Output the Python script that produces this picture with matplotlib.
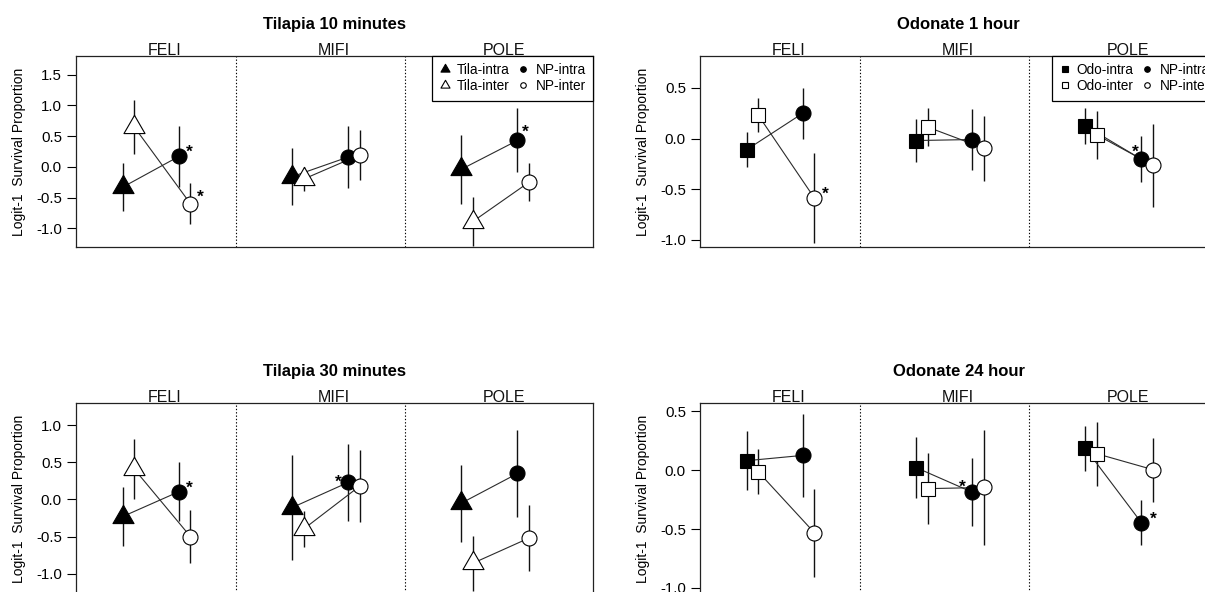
import matplotlib
matplotlib.use("Agg")
import matplotlib.pyplot as plt
from matplotlib.path import Path
from matplotlib.lines import Line2D
from matplotlib.transforms import blended_transform_factory

plt.rcParams['font.family'] = ['Liberation Sans', 'DejaVu Sans']
plt.rcParams['axes.unicode_minus'] = False

categories = ["FELI", "MIFI", "POLE"]

# Tilapia, 10 minutes
tila10_intra = [-0.33, -0.16, -0.04]
tila10_intra_se = [0.39, 0.46, 0.56]
tila10_inter = [0.65, -0.20, -0.89]
tila10_inter_se = [0.44, 0.19, 0.40]
tila10_np_intra = [0.17, 0.16, 0.43]
tila10_np_intra_se = [0.50, 0.51, 0.52]
tila10_np_inter = [-0.60, 0.195, -0.25]
tila10_np_inter_se = [0.33, 0.41, 0.31]

# Odonate, 1 hour
odo1_intra = [-0.11, -0.02, 0.125]
odo1_intra_se = [0.175, 0.21, 0.177]
odo1_inter = [0.23, 0.113, 0.036]
odo1_inter_se = [0.17, 0.19, 0.235]
odo1_np_intra = [0.25, -0.01, -0.205]
odo1_np_intra_se = [0.25, 0.30, 0.225]
odo1_np_inter = [-0.587, -0.095, -0.264]
odo1_np_inter_se = [0.44, 0.32, 0.41]

# Tilapia, 30 minutes
tila30_intra = [-0.23, -0.11, -0.05]
tila30_intra_se = [0.40, 0.71, 0.52]
tila30_inter = [0.41, -0.40, -0.86]
tila30_inter_se = [0.41, 0.24, 0.37]
tila30_np_intra = [0.105, 0.23, 0.35]
tila30_np_intra_se = [0.40, 0.52, 0.585]
tila30_np_inter = [-0.50, 0.18, -0.52]
tila30_np_inter_se = [0.36, 0.49, 0.45]

# Odonate, 24 hour
odo24_intra = [0.079, 0.021, 0.185]
odo24_intra_se = [0.25, 0.255, 0.19]
odo24_inter = [-0.015, -0.158, 0.138]
odo24_inter_se = [0.19, 0.30, 0.27]
odo24_np_intra = [0.124, -0.188, -0.447]
odo24_np_intra_se = [0.35, 0.29, 0.19]
odo24_np_inter = [-0.532, -0.148, 0.003]
odo24_np_inter_se = [0.375, 0.49, 0.27]

# y tick labels of each panel
ticks_tila10 = ["-1.0", "-0.5", "0.0", "0.5", "1.0", "1.5"]
ticks_odo1 = ["-1.0", "-0.5", "0.0", "0.5"]
ticks_tila30 = ["-1.0", "-0.5", "0.0", "0.5", "1.0"]
ticks_odo24 = ["-1.0", "-0.5", "0.0", "0.5"]

YLABEL = "Logit-1  Survival Proportion"

# triangle centred on its centroid (as in R's pch 2 / 17)
TRIANGLE = Path([(0, 1.555), (1.347, -0.778), (-1.347, -0.778), (0, 1.555)],
                [Path.MOVETO, Path.LINETO, Path.LINETO, Path.CLOSEPOLY])

W, H = 1205, 592
fig = plt.figure(figsize=(W / 100, H / 100), dpi=100)


def px_rect(left, top, width, height):
    return [left / W, 1 - (top + height) / H, width / W, height / H]


# horizontal placement of the four series inside each site block
OFFSETS = {"intra": 0.0, "inter": 0.068, "np_intra": 0.332, "np_inter": 0.40}
XLIM = (0.724, 3.780)
SEPARATORS = [1.67, 2.67]


def draw_panel(rect, title, pred, marker, ms, lms, series, ylim, ticklabels, stars,
               legend=True):
    ax = fig.add_axes(px_rect(*rect))
    ax.set_xlim(*XLIM)
    ax.set_ylim(*ylim)

    for s in SEPARATORS:
        ax.axvline(s, color="black", lw=0.8, ls=(0, (1.2, 1.8)), zorder=1)

    xs = {k: [g + 1 + off for g in range(len(categories))] for k, off in OFFSETS.items()}

    # error bars
    for k, (m, se) in series.items():
        ax.vlines(xs[k], [a - b for a, b in zip(m, se)], [a + b for a, b in zip(m, se)],
                  color="#111111", lw=1.0, zorder=2)
    # connecting lines: predator cue -> no-predator control
    for a, b in (("intra", "np_intra"), ("inter", "np_inter")):
        for g in range(len(categories)):
            ax.plot([xs[a][g], xs[b][g]], [series[a][0][g], series[b][0][g]],
                    color="#2b2b2b", lw=0.8, zorder=3)
    # significance stars
    for g, k, dx, dy in stars:
        ax.annotate("*", (xs[k][g], series[k][0][g]), xytext=(dx, dy - 6.6),
                    textcoords="offset points", ha="center", va="baseline",
                    fontsize=12.5, fontweight="bold", color="black", zorder=3.5)
    # markers
    styles = {
        "intra": dict(marker=marker, ms=ms, mfc="black"),
        "inter": dict(marker=marker, ms=ms, mfc="white"),
        "np_intra": dict(marker="o", ms=10.8, mfc="black"),
        "np_inter": dict(marker="o", ms=10.8, mfc="white"),
    }
    for z, k in enumerate(("intra", "inter", "np_intra", "np_inter")):
        ax.plot(xs[k], series[k][0], ls="none", mec="black", mew=0.8,
                zorder=4 + z, **styles[k])

    # site labels above the frame
    tr = blended_transform_factory(ax.transData, ax.transAxes)
    for g, c in enumerate(categories):
        ax.text(g + 1.25, 1.003, c, transform=tr, ha="center", va="baseline",
                fontsize=11.5, color="#111111")

    ax.set_title(title, fontsize=12, fontweight="bold", pad=19.5)

    ax.set_yticks([float(t) for t in ticklabels])
    ax.set_yticklabels(ticklabels)
    ax.set_xticks([])
    ax.tick_params(axis="y", direction="out", length=6.7, width=0.8, pad=3.4,
                   labelsize=10.8, colors="black")
    for sp in ax.spines.values():
        sp.set_linewidth(0.9)
        sp.set_color("#222222")

    ax.set_ylabel(YLABEL, fontsize=10, va="center")
    ax.yaxis.set_label_coords(-57 / rect[2], 0.5)

    if legend:
        handles = [
            Line2D([], [], ls="none", marker=marker, ms=lms, mfc="black", mec="black", mew=0.8),
            Line2D([], [], ls="none", marker=marker, ms=lms, mfc="white", mec="black", mew=0.8),
            Line2D([], [], ls="none", marker="o", ms=4.0, mfc="black", mec="black", mew=0.8),
            Line2D([], [], ls="none", marker="o", ms=4.0, mfc="white", mec="black", mew=0.8),
        ]
        labels = [pred + "-intra", pred + "-inter", "NP-intra", "NP-inter"]
        leg = ax.legend(handles, labels, ncol=2, loc="upper right", bbox_to_anchor=(1, 1),
                        borderaxespad=0, fontsize=9.8, frameon=True, fancybox=False,
                        edgecolor="black", framealpha=1, handlelength=0.8,
                        handletextpad=0.49, columnspacing=0.6, borderpad=0.55,
                        labelspacing=0.15)
        leg.get_frame().set_linewidth(0.9)
        leg.set_zorder(10)
    return ax


draw_panel((76, 55.7, 517.3, 191.6), "Tilapia 10 minutes", "Tila", TRIANGLE, 17.5, 7.5,
           {"intra": (tila10_intra, tila10_intra_se),
            "inter": (tila10_inter, tila10_inter_se),
            "np_intra": (tila10_np_intra, tila10_np_intra_se),
            "np_inter": (tila10_np_inter, tila10_np_inter_se)},
           (-1.309, 1.809), ticks_tila10,
           [(0, "np_intra", 7.2, 6.5), (0, "np_inter", 7.2, 8.0), (2, "np_intra", 5.3, 9.5)])

draw_panel((700, 55.7, 517.3, 191.6), "Odonate 1 hour", "Odo", "s", 10.4, 4.4,
           {"intra": (odo1_intra, odo1_intra_se),
            "inter": (odo1_inter, odo1_inter_se),
            "np_intra": (odo1_np_intra, odo1_np_intra_se),
            "np_inter": (odo1_np_inter, odo1_np_inter_se)},
           (-1.072, 0.816), ticks_odo1,
           [(0, "np_inter", 7.9, 6.0), (2, "np_intra", -4.8, 8.7)])

draw_panel((76, 403, 517.3, 191.6), "Tilapia 30 minutes", "Tila", TRIANGLE, 17.5, 7.5,
           {"intra": (tila30_intra, tila30_intra_se),
            "inter": (tila30_inter, tila30_inter_se),
            "np_intra": (tila30_np_intra, tila30_np_intra_se),
            "np_inter": (tila30_np_inter, tila30_np_inter_se)},
           (-1.282, 1.30), ticks_tila30,
           [(0, "np_intra", 7.2, 5.8), (1, "np_intra", -7.2, 3.2)], legend=False)

draw_panel((700, 403, 517.3, 191.6), "Odonate 24 hour", "Odo", "s", 10.4, 4.4,
           {"intra": (odo24_intra, odo24_intra_se),
            "inter": (odo24_inter, odo24_inter_se),
            "np_intra": (odo24_np_intra, odo24_np_intra_se),
            "np_inter": (odo24_np_inter, odo24_np_inter_se)},
           (-1.056, 0.568), ticks_odo24,
           [(1, "np_intra", -7.2, 7.2), (2, "np_intra", 8.6, 6.0)], legend=False)

fig.savefig("out.png", dpi=100)
